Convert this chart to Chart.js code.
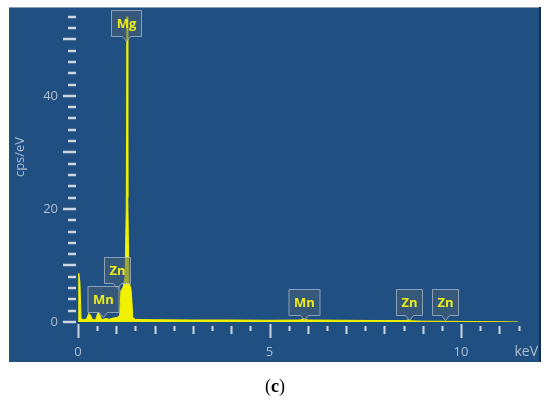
<!DOCTYPE html>
<html>
<head>
<meta charset="utf-8">
<script src="https://cdn.jsdelivr.net/npm/chart.js@4.4.0/dist/chart.umd.min.js"></script>
<style>
  html, body { margin: 0; padding: 0; background: #fff; }
  #wrap { position: relative; width: 550px; height: 404px; }
  #caption { position: absolute; left: 0; top: 376px; width: 550px; text-align: center;
             font-family: "Liberation Serif", serif; font-size: 18px; color: #000; }
</style>
</head>
<body>
<div id="wrap">
  <canvas id="spectrum" width="550" height="404"></canvas>
  <div id="caption">(<b>c</b>)</div>
</div>
<script>
/* Spectrum (keV / cps per eV) */
const energy = [0, 0.02, 0.05, 0.08, 0.14, 0.22, 0.28, 0.32, 0.38, 0.46,
                0.52, 0.56, 0.62, 0.72, 0.82, 0.92, 1.02, 1.09, 1.12, 1.18,
                1.23, 1.26, 1.28, 1.30, 1.33, 1.38, 1.40, 1.43, 1.5, 2,
                3, 4, 5, 5.8, 5.9, 6.0, 7, 8, 8.55, 8.63,
                8.7, 9, 10, 11, 11.5];
const counts = [0, 8.6, 7.0, 0.6, 0.4, 0.5, 1.5, 1.3, 0.4, 0.4,
                1.6, 1.4, 0.4, 0.6, 0.5, 0.7, 0.8, 1.2, 5.5, 6.2,
                8, 20, 54, 22, 7, 6, 4.5, 0.8, 0.45, 0.4,
                0.35, 0.35, 0.3, 0.35, 0.6, 0.35, 0.3, 0.25, 0.25, 0.4,
                0.2, 0.15, 0.1, 0.05, 0];

/* Element markers */
const peakNames  = ['Mg', 'Zn', 'Mn', 'Mn', 'Zn', 'Zn'];
const peakEnergy = [1.25, 1.01, 0.64, 5.90, 8.63, 9.57];
const peakTip    = [49.7, 6.0, 0.9, 0.35, 0.35, 0.35];

/* Tick labels */
const xTickLabels = [0, 5, 10];
const yTickLabels = [0, 20, 40];

const labelColor = '#aebdcf';
const dashColor = '#cdd6e1';

// draws panel, tick dashes, element markers, axis title and the keV unit
const edsDecor = {
    id: 'edsDecor',
    beforeDraw(chart) {
        const ctx = chart.ctx;
        ctx.save();
        ctx.fillStyle = '#205081';
        ctx.fillRect(9, 7, 532, 355);
        ctx.fillStyle = '#8d9db1';
        ctx.fillRect(9, 7, 532, 1);
        ctx.fillStyle = '#122e4c';
        ctx.fillRect(539, 7, 2, 355);
        ctx.restore();
    },
    afterDatasetsDraw(chart) {
        const ctx = chart.ctx;
        const xs = chart.scales.x, ys = chart.scales.y;
        const area = chart.chartArea;
        ctx.save();
        ctx.strokeStyle = dashColor;

        // y dashes every 2, long every 10
        ctx.lineWidth = 2.5;
        for (let v = 0; v <= 54; v += 2) {
            const y = Math.round(ys.getPixelForValue(v));
            const long = v % 10 === 0;
            ctx.beginPath();
            ctx.moveTo(area.left - (long ? 15 : 10), y);
            ctx.lineTo(area.left - 2, y);
            ctx.stroke();
        }
        // x dashes every 0.5, longer on integers and 5s
        ctx.lineWidth = 2;
        for (let i = 0; i <= 23; i++) {
            const v = i * 0.5;
            const x = Math.round(xs.getPixelForValue(v)) + 0.5;
            let top = 4, bot = 9;
            if (v % 5 === 0) { top = 2; bot = 16; }
            else if (v % 1 === 0) { top = 4; bot = 12; }
            ctx.beginPath();
            ctx.moveTo(x, area.bottom + top);
            ctx.lineTo(x, area.bottom + bot);
            ctx.stroke();
        }

        // element markers
        ctx.font = 'bold 13px "Open Sans"';
        ctx.textAlign = 'center';
        ctx.textBaseline = 'middle';
        peakNames.forEach((name, i) => {
            const cx = Math.round(xs.getPixelForValue(peakEnergy[i])) + 0.5;
            const tip = Math.round(ys.getPixelForValue(peakTip[i])) + 0.5;
            const w = Math.round(ctx.measureText(name).width) + 10;
            const h = 26;
            const bottom = tip - 5;
            const top = bottom - h;
            const left = cx - w / 2, right = cx + w / 2;
            ctx.beginPath();
            ctx.moveTo(left, top);
            ctx.lineTo(right, top);
            ctx.lineTo(right, bottom);
            ctx.lineTo(cx + 4, bottom);
            ctx.lineTo(cx, tip);
            ctx.lineTo(cx - 4, bottom);
            ctx.lineTo(left, bottom);
            ctx.closePath();
            ctx.fillStyle = 'rgba(75,95,115,0.5)';
            ctx.fill();
            ctx.strokeStyle = 'rgba(165,180,198,0.8)';
            ctx.lineWidth = 1;
            ctx.stroke();
            ctx.fillStyle = '#ecec1c';
            ctx.fillText(name, cx, top + h / 2 + 1);
        });

        // y axis title
        ctx.fillStyle = labelColor;
        ctx.font = '13px "Open Sans"';
        ctx.save();
        ctx.translate(20, 157);
        ctx.rotate(-Math.PI / 2);
        ctx.textAlign = 'center';
        ctx.fillText('cps/eV', 0, 0);
        ctx.restore();

        // unit on the x axis line
        ctx.font = '14px "Open Sans"';
        ctx.textAlign = 'right';
        ctx.fillText('keV', 538, 352);
        ctx.restore();
    }
};

new Chart(document.getElementById('spectrum'), {
    type: 'line',
    data: {
        datasets: [{
            data: energy.map((e, i) => ({x: e, y: counts[i]})),
            borderColor: '#f2f200',
            backgroundColor: '#f2f200',
            borderWidth: 1,
            fill: 'origin',
            pointRadius: 0,
            tension: 0
        }]
    },
    options: {
        responsive: false,
        animation: false,
        layout: { padding: { left: 0, top: 11, right: 31.5, bottom: 0 } },
        plugins: { legend: { display: false }, tooltip: { enabled: false } },
        scales: {
            x: {
                type: 'linear',
                min: 0,
                max: 11.5,
                border: { display: false },
                grid: { display: false, drawTicks: false },
                ticks: {
                    stepSize: 5,
                    autoSkip: false,
                    maxRotation: 0,
                    padding: 22,
                    color: labelColor,
                    font: { family: 'Open Sans', size: 13 },
                    callback: v => xTickLabels.includes(v) ? String(v) : ''
                },
                afterFit: s => {
                    s.height = 82;
                    s.paddingLeft = 0; s.paddingRight = 0;
                }
            },
            y: {
                min: 0,
                max: 55,
                border: { display: false },
                grid: { display: false, drawTicks: false },
                ticks: {
                    stepSize: 20,
                    padding: 20,
                    color: labelColor,
                    font: { family: 'Open Sans', size: 13 },
                    callback: v => yTickLabels.includes(v) ? String(v) : ''
                },
                afterFit: s => {
                    s.width = 78;
                    s.paddingTop = 0; s.paddingBottom = 0;
                }
            }
        }
    },
    plugins: [edsDecor]
});
</script>
</body>
</html>
